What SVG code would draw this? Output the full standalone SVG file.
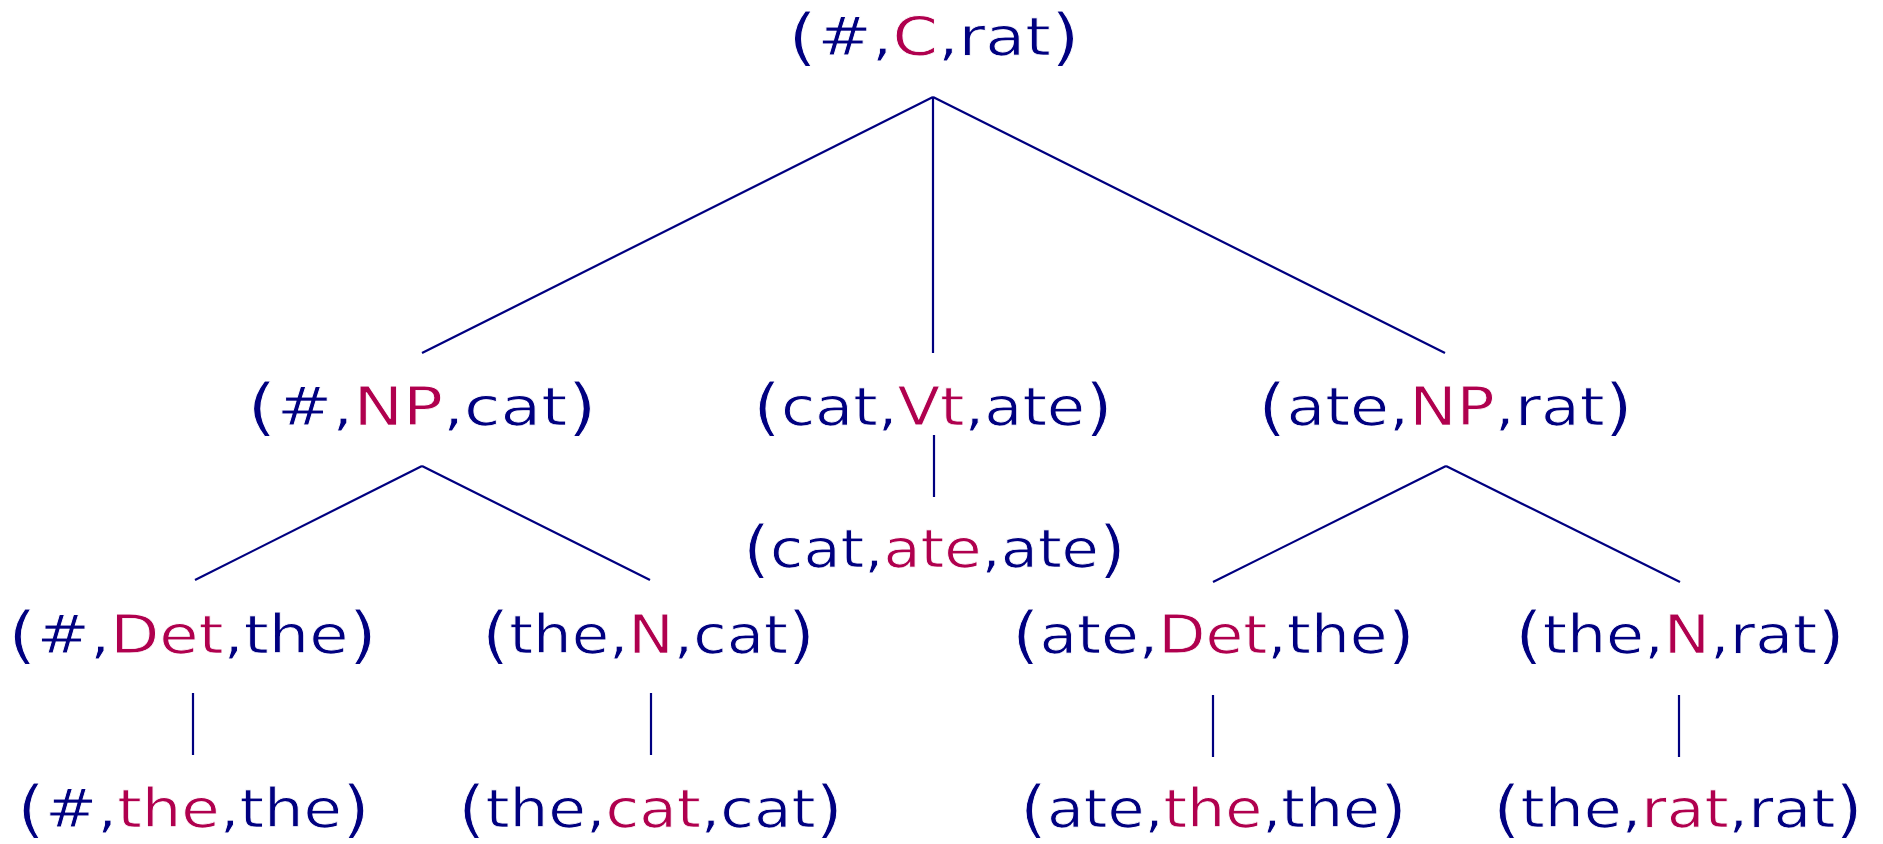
<svg xmlns="http://www.w3.org/2000/svg" width="1883" height="844" viewBox="0 0 1883 844">
<style>
text{font-family:"DejaVu Sans","Liberation Sans",sans-serif;font-size:54px;fill:#000080;stroke:#fff;stroke-width:0.8px}
.r{fill:#b0004e}
.p{font-size:62px}
.e{stroke:#000080;stroke-width:2.2;fill:none;stroke-linecap:butt}
</style>
<rect width="1883" height="844" fill="#fff"/>
<g id="connectors">
<line class="e" x1="933" y1="97" x2="422" y2="353"/>
<line class="e" x1="933" y1="97" x2="933" y2="353"/>
<line class="e" x1="933" y1="97" x2="1445" y2="353"/>
<line class="e" x1="422" y1="466" x2="195" y2="580"/>
<line class="e" x1="422" y1="466" x2="650" y2="580"/>
<line class="e" x1="1446" y1="466" x2="1213" y2="582"/>
<line class="e" x1="1446" y1="466" x2="1680" y2="582"/>
<line class="e" x1="934" y1="435" x2="934" y2="497"/>
<line class="e" x1="193" y1="693" x2="193" y2="755"/>
<line class="e" x1="651" y1="693" x2="651" y2="755"/>
<line class="e" x1="1213" y1="695" x2="1213" y2="757"/>
<line class="e" x1="1679" y1="695" x2="1679" y2="757"/>
</g>
<g id="n1"><text x="788" y="55" textLength="292" lengthAdjust="spacingAndGlyphs"><tspan class="p" dy="3">(</tspan><tspan dy="-3">#,</tspan><tspan class="r">C</tspan>,rat<tspan class="p" dy="3">)</tspan></text></g>
<g id="n2"><text x="247" y="425" textLength="350" lengthAdjust="spacingAndGlyphs"><tspan class="p" dy="3">(</tspan><tspan dy="-3">#,</tspan><tspan class="r">NP</tspan>,cat<tspan class="p" dy="3">)</tspan></text></g>
<g id="n3"><text x="753" y="425" textLength="360" lengthAdjust="spacingAndGlyphs"><tspan class="p" dy="3">(</tspan><tspan dy="-3">cat,</tspan><tspan class="r">Vt</tspan>,ate<tspan class="p" dy="3">)</tspan></text></g>
<g id="n4"><text x="1258" y="425" textLength="375" lengthAdjust="spacingAndGlyphs"><tspan class="p" dy="3">(</tspan><tspan dy="-3">ate,</tspan><tspan class="r">NP</tspan>,rat<tspan class="p" dy="3">)</tspan></text></g>
<g id="n5"><text x="743" y="567" textLength="383" lengthAdjust="spacingAndGlyphs"><tspan class="p" dy="3">(</tspan><tspan dy="-3">cat,</tspan><tspan class="r">ate</tspan>,ate<tspan class="p" dy="3">)</tspan></text></g>
<g id="n6"><text x="8" y="653" textLength="369" lengthAdjust="spacingAndGlyphs"><tspan class="p" dy="3">(</tspan><tspan dy="-3">#,</tspan><tspan class="r">Det</tspan>,the<tspan class="p" dy="3">)</tspan></text></g>
<g id="n7"><text x="482" y="653" textLength="333" lengthAdjust="spacingAndGlyphs"><tspan class="p" dy="3">(</tspan><tspan dy="-3">the,</tspan><tspan class="r">N</tspan>,cat<tspan class="p" dy="3">)</tspan></text></g>
<g id="n8"><text x="1012" y="653" textLength="403" lengthAdjust="spacingAndGlyphs"><tspan class="p" dy="3">(</tspan><tspan dy="-3">ate,</tspan><tspan class="r">Det</tspan>,the<tspan class="p" dy="3">)</tspan></text></g>
<g id="n9"><text x="1515" y="653" textLength="330" lengthAdjust="spacingAndGlyphs"><tspan class="p" dy="3">(</tspan><tspan dy="-3">the,</tspan><tspan class="r">N</tspan>,rat<tspan class="p" dy="3">)</tspan></text></g>
<g id="n10"><text x="17" y="827" textLength="353" lengthAdjust="spacingAndGlyphs"><tspan class="p" dy="3">(</tspan><tspan dy="-3">#,</tspan><tspan class="r">the</tspan>,the<tspan class="p" dy="3">)</tspan></text></g>
<g id="n11"><text x="458" y="827" textLength="385" lengthAdjust="spacingAndGlyphs"><tspan class="p" dy="3">(</tspan><tspan dy="-3">the,</tspan><tspan class="r">cat</tspan>,cat<tspan class="p" dy="3">)</tspan></text></g>
<g id="n12"><text x="1020" y="827" textLength="387" lengthAdjust="spacingAndGlyphs"><tspan class="p" dy="3">(</tspan><tspan dy="-3">ate,</tspan><tspan class="r">the</tspan>,the<tspan class="p" dy="3">)</tspan></text></g>
<g id="n13"><text x="1493" y="827" textLength="370" lengthAdjust="spacingAndGlyphs"><tspan class="p" dy="3">(</tspan><tspan dy="-3">the,</tspan><tspan class="r">rat</tspan>,rat<tspan class="p" dy="3">)</tspan></text></g>
</svg>
